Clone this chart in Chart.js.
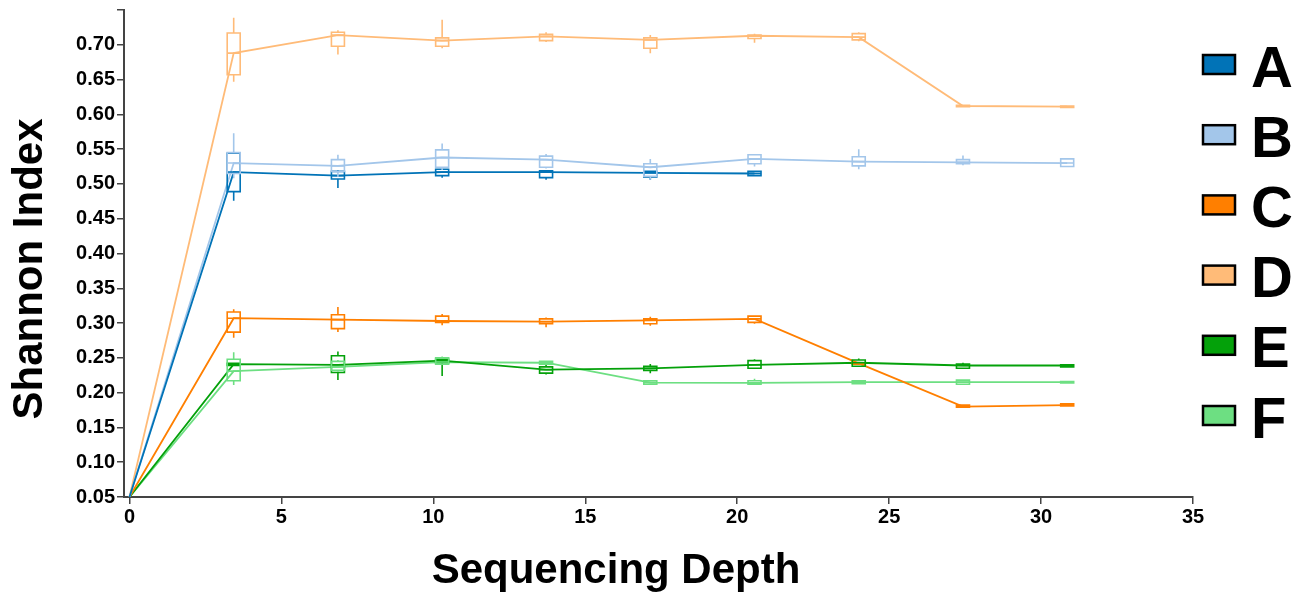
<!DOCTYPE html>
<html>
<head>
<meta charset="utf-8">
<script src="https://cdn.jsdelivr.net/npm/chart.js@4.4.1/dist/chart.umd.min.js"></script>
<style>
  html, body { margin: 0; padding: 0; background: #fff; }
  #wrap { width: 1303px; height: 593px; }
</style>
</head>
<body>
<div id="wrap"><canvas id="shannonChart"></canvas></div>
<script>
// Sequencing depth at each sampling step (x values).
const depth = [0, 3.43, 6.86, 10.29, 13.71, 17.14, 20.57, 24.0, 27.43, 30.86];

// Box stats per point: [min, q1, median, q3, max]
const statsA = [
  [0.05, 0.05, 0.05, 0.05, 0.05],
  [0.476, 0.489, 0.517, 0.544, 0.545],
  [0.494, 0.507, 0.512, 0.518, 0.520],
  [0.509, 0.512, 0.517, 0.521, 0.522],
  [0.506, 0.509, 0.517, 0.519, 0.520],
  [0.506, 0.510, 0.516, 0.518, 0.519],
  [0.511, 0.512, 0.515, 0.518, 0.519]
];
const statsB = [
  [0.05, 0.05, 0.05, 0.05, 0.05],
  [0.508, 0.515, 0.530, 0.545, 0.573],
  [0.510, 0.518, 0.526, 0.535, 0.542],
  [0.520, 0.524, 0.538, 0.549, 0.558],
  [0.522, 0.524, 0.535, 0.540, 0.543],
  [0.506, 0.511, 0.524, 0.529, 0.536],
  [0.525, 0.529, 0.536, 0.542, 0.543],
  [0.521, 0.526, 0.532, 0.539, 0.550],
  [0.527, 0.529, 0.531, 0.535, 0.541],
  [0.525, 0.525, 0.530, 0.536, 0.536]
];
const statsC = [
  [0.05, 0.05, 0.05, 0.05, 0.05],
  [0.279, 0.287, 0.307, 0.316, 0.320],
  [0.287, 0.292, 0.305, 0.312, 0.323],
  [0.297, 0.301, 0.303, 0.310, 0.313],
  [0.294, 0.299, 0.302, 0.306, 0.308],
  [0.296, 0.299, 0.304, 0.306, 0.309],
  [0.299, 0.301, 0.306, 0.310, 0.311],
  [0.241, 0.241, 0.242, 0.243, 0.243],
  [0.178, 0.179, 0.180, 0.182, 0.183],
  [0.181, 0.181, 0.182, 0.184, 0.184]
];
const statsD = [
  [0.05, 0.05, 0.05, 0.05, 0.05],
  [0.647, 0.657, 0.688, 0.717, 0.739],
  [0.686, 0.698, 0.714, 0.718, 0.721],
  [0.695, 0.698, 0.706, 0.710, 0.736],
  [0.704, 0.706, 0.712, 0.715, 0.718],
  [0.688, 0.695, 0.707, 0.710, 0.714],
  [0.703, 0.709, 0.713, 0.714, 0.716],
  [0.705, 0.707, 0.711, 0.716, 0.718],
  [0.610, 0.611, 0.612, 0.613, 0.614],
  [0.609, 0.610, 0.611, 0.612, 0.612]
];
const statsE = [
  [0.05, 0.05, 0.05, 0.05, 0.05],
  [0.238, 0.239, 0.241, 0.242, 0.243],
  [0.218, 0.229, 0.240, 0.253, 0.259],
  [0.224, 0.243, 0.246, 0.248, 0.249],
  [0.226, 0.228, 0.233, 0.237, 0.240],
  [0.228, 0.232, 0.235, 0.238, 0.241],
  [0.234, 0.235, 0.240, 0.246, 0.248],
  [0.237, 0.238, 0.243, 0.247, 0.249],
  [0.234, 0.235, 0.239, 0.241, 0.243],
  [0.237, 0.237, 0.239, 0.240, 0.240]
];
const statsF = [
  [0.05, 0.05, 0.05, 0.05, 0.05],
  [0.211, 0.217, 0.231, 0.248, 0.258],
  [0.230, 0.232, 0.237, 0.245, 0.247],
  [0.241, 0.241, 0.244, 0.250, 0.252],
  [0.240, 0.241, 0.243, 0.245, 0.246],
  [0.211, 0.212, 0.2145, 0.217, 0.218],
  [0.211, 0.212, 0.214, 0.217, 0.220],
  [0.213, 0.213, 0.215, 0.217, 0.217],
  [0.212, 0.212, 0.215, 0.218, 0.218],
  [0.214, 0.214, 0.215, 0.216, 0.216]
];

const groupNames = ['A', 'B', 'C', 'D', 'E', 'F'];
const groupColors = ['#0173b7', '#a3c6ea', '#ff7f00', '#ffbb78', '#04a10a', '#6ddf82'];
const groupStats = [statsA, statsB, statsC, statsD, statsE, statsF];

const FONT = "'Liberation Sans', Arial, sans-serif";

// Draw box-and-whisker marks on top of each line, using the chart scales.
const boxPlugin = {
  id: 'boxes',
  afterDatasetsDraw(chart) {
    const { ctx, scales: { x, y } } = chart;
    chart.data.datasets.forEach(ds => {
      ctx.save();
      ctx.strokeStyle = ds.borderColor;
      ctx.lineWidth = 1.6;
      ds.stats.forEach((s, j) => {
        if (s[0] === s[4]) return;
        const px = x.getPixelForValue(depth[j]);
        const [lo, q1, md, q3, hi] = s.map(v => y.getPixelForValue(v));
        const hw = 6.5;
        ctx.beginPath();
        ctx.moveTo(px, hi); ctx.lineTo(px, q3);
        ctx.moveTo(px, q1); ctx.lineTo(px, lo);
        ctx.rect(px - hw, q3, hw * 2, Math.max(q1 - q3, 1.5));
        ctx.moveTo(px - hw, md); ctx.lineTo(px + hw, md);
        ctx.stroke();
      });
      ctx.restore();
    });
  }
};

// Legend on the right plus the two axis titles.
const decorPlugin = {
  id: 'decor',
  afterDraw(chart) {
    const { ctx } = chart;
    ctx.save();
    chart.data.datasets.forEach((ds, i) => {
      const cy = 64.5 + i * 70.2;
      ctx.fillStyle = groupColors[i];
      ctx.fillRect(1203, cy - 9.5, 32, 19);
      ctx.strokeStyle = '#000';
      ctx.lineWidth = 2.5;
      ctx.strokeRect(1203, cy - 9.5, 32, 19);
      ctx.fillStyle = '#000';
      ctx.font = 'bold 58px ' + FONT;
      ctx.textAlign = 'left';
      ctx.textBaseline = 'alphabetic';
      ctx.fillText(ds.label, 1251, cy + 22);
    });

    ctx.fillStyle = '#000';
    ctx.font = 'bold 42px ' + FONT;
    ctx.textAlign = 'center';
    ctx.textBaseline = 'alphabetic';
    ctx.fillText('Sequencing Depth', 616, 583);

    ctx.translate(42, 269);
    ctx.rotate(-Math.PI / 2);
    ctx.fillText('Shannon Index', 0, 0);
    ctx.restore();
  }
};

const ctx = document.getElementById('shannonChart').getContext('2d');

const shannonChart = new Chart(ctx, {
  type: 'line',
  data: {
    datasets: groupNames.map((name, i) => ({
      label: name,
      data: groupStats[i].map((s, j) => ({ x: depth[j], y: s[2] })),
      stats: groupStats[i],
      borderColor: groupColors[i],
      backgroundColor: groupColors[i],
      borderWidth: 1.8,
      pointRadius: 0,
      tension: 0,
      fill: false
    }))
  },
  options: {
    responsive: true,
    maintainAspectRatio: false,
    animation: false,
    layout: { padding: { left: 54, right: 110, top: 10, bottom: 0 } },
    plugins: {
      legend: { display: false },
      tooltip: { enabled: false }
    },
    scales: {
      x: {
        type: 'linear',
        min: -0.18,
        max: 35,
        border: { color: '#444', width: 2 },
        grid: { drawOnChartArea: false, drawTicks: true, tickLength: 7, color: '#444', lineWidth: 1.5 },
        ticks: {
          stepSize: 5,
          includeBounds: false,
          color: '#000',
          padding: 1,
          maxRotation: 0,
          font: { family: FONT, size: 20, weight: 'bold' }
        },
        afterFit(scale) { scale.height = 96; }
      },
      y: {
        min: 0.05,
        max: 0.75,
        border: { color: '#444', width: 2 },
        grid: { drawOnChartArea: false, drawTicks: true, tickLength: 7, color: '#444', lineWidth: 1.5 },
        ticks: {
          stepSize: 0.05,
          color: '#000',
          padding: 2,
          font: { family: FONT, size: 20, weight: 'bold' },
          callback: v => (v > 0.74 ? '' : v.toFixed(2))
        },
        afterFit(scale) {
          scale.width = 70;
          scale.paddingTop = 0;
        }
      }
    }
  },
  plugins: [boxPlugin, decorPlugin]
});
</script>
</body>
</html>
